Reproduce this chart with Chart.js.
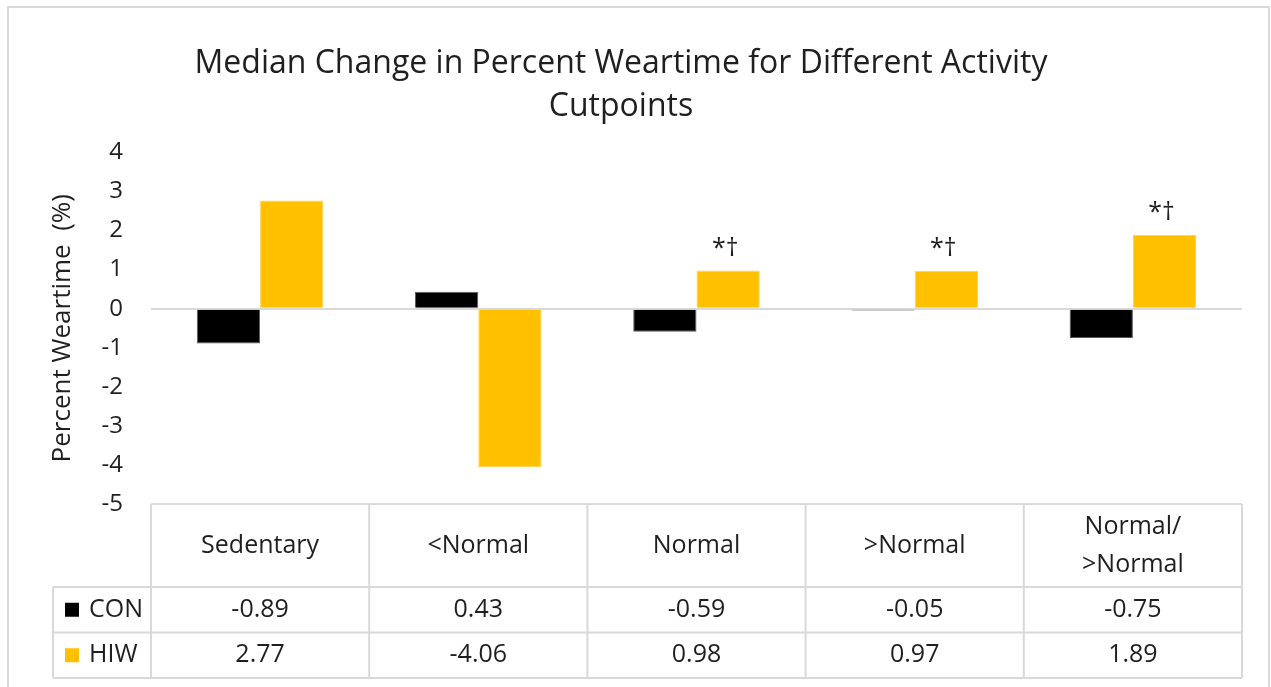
<!DOCTYPE html>
<html>
<head>
<meta charset="utf-8">
<script src="https://cdn.jsdelivr.net/npm/chart.js@4.4.1/dist/chart.umd.min.js"></script>
<style>
  html, body { margin: 0; padding: 0; background: #fff; }
  #wrap { width: 1271px; height: 687px; }
</style>
</head>
<body>
<div id="wrap"><canvas id="myChart" width="1271" height="687"></canvas></div>
<script>
// Datos del gráfico
const categories = ['Sedentary', '<Normal', 'Normal', '>Normal', ['Normal/', '>Normal']];
const conValues = [-0.89, 0.43, -0.59, -0.05, -0.75];
const hiwValues = [2.77, -4.06, 0.98, 0.97, 1.89];
const hiwMarks = ['', '', '*†', '*†', '*†'];
const yTicks = [4, 3, 2, 1, 0, -1, -2, -3, -4, -5];

const textColor = '#1f1f1f';
const lineColor = '#D9D9D9';
Chart.defaults.font.family = '"Open Sans", sans-serif';
Chart.defaults.color = textColor;

// Marco exterior y fondo
const framePlugin = {
    id: 'frame',
    beforeDraw(chart) {
        const { ctx, width, height } = chart;
        ctx.save();
        ctx.fillStyle = '#fff';
        ctx.fillRect(0, 0, width, height);
        ctx.strokeStyle = lineColor;
        ctx.lineWidth = 2;
        ctx.beginPath();
        ctx.moveTo(8, height + 5);
        ctx.lineTo(8, 7);
        ctx.lineTo(1269, 7);
        ctx.lineTo(1269, height + 5);
        ctx.stroke();
        ctx.restore();
    }
};

// Marcas de significancia sobre las barras HIW
const marksPlugin = {
    id: 'marks',
    afterDatasetsDraw(chart) {
        const { ctx } = chart;
        const meta = chart.getDatasetMeta(1);
        ctx.save();
        ctx.font = '25px "Open Sans", sans-serif';
        ctx.fillStyle = textColor;
        ctx.textAlign = 'center';
        ctx.textBaseline = 'middle';
        meta.data.forEach((bar, i) => {
            if (hiwMarks[i]) ctx.fillText(hiwMarks[i], bar.x - 3, bar.y - 22);
        });
        ctx.restore();
    }
};

// Tabla de datos bajo el gráfico
const tablePlugin = {
    id: 'dataTable',
    afterDraw(chart) {
        const { ctx, chartArea } = chart;
        const n = categories.length;
        const colW = (chartArea.right - chartArea.left) / n;
        const top = chartArea.bottom;
        const headH = 83;
        const rowH = 45.5;
        const legendLeft = 53;
        const bottom = top + headH + rowH * 2;

        ctx.save();
        ctx.strokeStyle = lineColor;
        ctx.lineWidth = 2;
        ctx.beginPath();
        ctx.moveTo(chartArea.left, top);
        ctx.lineTo(chartArea.right, top);
        for (let r = 0; r <= 2; r++) {
            const y = top + headH + rowH * r;
            ctx.moveTo(legendLeft, y);
            ctx.lineTo(chartArea.right, y);
        }
        for (let c = 0; c <= n; c++) {
            const x = chartArea.left + colW * c;
            ctx.moveTo(x, top);
            ctx.lineTo(x, bottom);
        }
        ctx.moveTo(legendLeft, top + headH);
        ctx.lineTo(legendLeft, bottom);
        ctx.stroke();

        ctx.font = '25px "Open Sans", sans-serif';
        ctx.fillStyle = textColor;
        ctx.textAlign = 'center';
        ctx.textBaseline = 'middle';

        // cabeceras
        categories.forEach((cat, i) => {
            const cx = chartArea.left + colW * (i + 0.5);
            const lines = Array.isArray(cat) ? cat : [cat];
            const lh = 38;
            const cy = top + headH / 2 - (lines.length - 1) * lh / 2;
            lines.forEach((line, k) => ctx.fillText(line, cx, cy + k * lh));
        });

        // filas de valores con su leyenda
        chart.data.datasets.forEach((ds, r) => {
            const cy = top + headH + rowH * (r + 0.5);
            ds.data.forEach((v, i) => {
                const cx = chartArea.left + colW * (i + 0.5);
                ctx.fillText(v.toFixed(2), cx, cy);
            });
            ctx.fillStyle = ds.backgroundColor;
            ctx.fillRect(65, cy - 7, 14, 14);
            ctx.fillStyle = textColor;
            ctx.textAlign = 'left';
            ctx.fillText(ds.label, 89, cy);
            ctx.textAlign = 'center';
        });
        ctx.restore();
    }
};

const ctx = document.getElementById('myChart').getContext('2d');
new Chart(ctx, {
    type: 'bar',
    data: {
        labels: categories,
        datasets: [{
            label: 'CON',
            data: conValues,
            backgroundColor: '#000000',
            borderColor: '#595959',
            borderWidth: 1
        }, {
            label: 'HIW',
            data: hiwValues,
            backgroundColor: '#FFC000',
            borderColor: '#FFD34D',
            borderWidth: 1
        }]
    },
    options: {
        responsive: false,
        animation: false,
        devicePixelRatio: 1,
        layout: {
            padding: { left: 0, right: 29, top: 0, bottom: 183 }
        },
        datasets: {
            bar: { categoryPercentage: 0.58, barPercentage: 1 }
        },
        scales: {
            x: {
                display: false
            },
            y: {
                min: -5,
                max: 4,
                afterFit: (scale) => { scale.width = 151; },
                afterBuildTicks: (scale) => {
                    scale.ticks = yTicks.map(v => ({ value: v }));
                },
                border: { display: false },
                grid: {
                    drawTicks: false,
                    lineWidth: 2,
                    color: (c) => (c.tick && c.tick.value === 0 ? lineColor : 'rgba(0,0,0,0)')
                },
                ticks: {
                    padding: 28,
                    font: { size: 24 },
                    color: textColor
                },
                title: {
                    display: true,
                    text: 'Percent Weartime  (%)',
                    font: { size: 26 },
                    color: textColor,
                    padding: { top: 47, bottom: 0 }
                }
            }
        },
        plugins: {
            legend: { display: false },
            tooltip: { enabled: false },
            title: {
                display: true,
                text: ['Median Change in Percent Weartime for Different Activity', 'Cutpoints'],
                font: { size: 32, weight: 'normal', lineHeight: 1.35 },
                color: textColor,
                padding: { top: 42, bottom: 24 }
            }
        }
    },
    plugins: [framePlugin, marksPlugin, tablePlugin]
});
</script>
</body>
</html>
